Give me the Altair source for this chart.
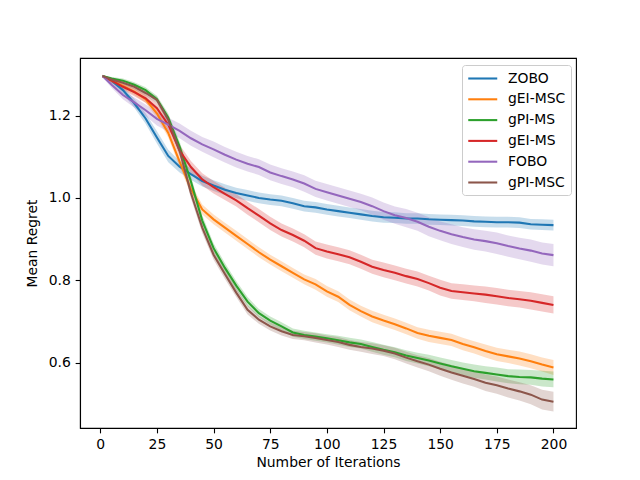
import altair as alt
import pandas as pd

iters = [1] + list(range(5, 201, 5))

series_names = ["ZOBO", "gEI-MSC", "gPI-MS", "gEI-MS", "FOBO", "gPI-MSC"]
colors = ["#1f77b4", "#ff7f0e", "#2ca02c", "#d62728", "#9467bd", "#8c564b"]

zobo = [1.296, 1.285, 1.262, 1.230, 1.193, 1.147, 1.102, 1.076, 1.058, 1.041, 1.030,
        1.020, 1.012, 1.006, 1.000, 0.996, 0.993, 0.987, 0.980, 0.977, 0.972,
        0.968, 0.964, 0.960, 0.956, 0.953, 0.952, 0.950, 0.950, 0.948, 0.947,
        0.946, 0.945, 0.943, 0.942, 0.941, 0.941, 0.940, 0.936, 0.935, 0.934]
gei_msc = [1.296, 1.285, 1.272, 1.258, 1.240, 1.205, 1.158, 1.088, 1.022, 0.972, 0.948,
           0.928, 0.908, 0.888, 0.868, 0.850, 0.834, 0.818, 0.802, 0.790, 0.773,
           0.760, 0.740, 0.725, 0.712, 0.702, 0.693, 0.683, 0.672, 0.665, 0.660,
           0.655, 0.645, 0.637, 0.628, 0.620, 0.615, 0.610, 0.603, 0.595, 0.588]
gpi_ms = [1.296, 1.290, 1.285, 1.275, 1.262, 1.240, 1.195, 1.125, 1.040, 0.945, 0.878,
          0.830, 0.787, 0.748, 0.720, 0.702, 0.688, 0.673, 0.667, 0.663, 0.659,
          0.654, 0.649, 0.645, 0.638, 0.631, 0.625, 0.617, 0.611, 0.605, 0.598,
          0.591, 0.585, 0.579, 0.575, 0.571, 0.567, 0.565, 0.564, 0.561, 0.559]
gei_ms = [1.296, 1.285, 1.270, 1.257, 1.242, 1.218, 1.178, 1.115, 1.075, 1.045, 1.026,
          1.010, 0.994, 0.975, 0.957, 0.938, 0.922, 0.910, 0.896, 0.878, 0.870,
          0.863, 0.856, 0.845, 0.833, 0.825, 0.818, 0.810, 0.803, 0.793, 0.782,
          0.774, 0.771, 0.768, 0.765, 0.761, 0.757, 0.754, 0.750, 0.745, 0.740]
fobo = [1.296, 1.275, 1.250, 1.232, 1.213, 1.192, 1.178, 1.163, 1.145, 1.130, 1.118,
        1.105, 1.093, 1.083, 1.075, 1.062, 1.053, 1.045, 1.035, 1.022, 1.014,
        1.006, 0.998, 0.990, 0.980, 0.968, 0.958, 0.951, 0.942, 0.930, 0.920,
        0.912, 0.905, 0.899, 0.895, 0.890, 0.883, 0.877, 0.872, 0.865, 0.861]
gpi_msc = [1.296, 1.288, 1.280, 1.270, 1.255, 1.238, 1.190, 1.115, 1.012, 0.928, 0.862,
           0.815, 0.770, 0.728, 0.704, 0.688, 0.676, 0.667, 0.664, 0.660, 0.655,
           0.650, 0.643, 0.638, 0.634, 0.629, 0.622, 0.612, 0.603, 0.595, 0.585,
           0.576, 0.568, 0.560, 0.551, 0.545, 0.537, 0.530, 0.522, 0.510, 0.505]

zobo_err = [0.003, 0.006, 0.009, 0.011, 0.013, 0.015, 0.015, 0.014, 0.014, 0.013, 0.013,
            0.013, 0.013, 0.013, 0.013, 0.013, 0.013, 0.013, 0.013, 0.013, 0.013,
            0.013, 0.013, 0.013, 0.013, 0.013, 0.013, 0.013, 0.013, 0.013, 0.013,
            0.013, 0.013, 0.013, 0.013, 0.013, 0.013, 0.013, 0.013, 0.013, 0.013]
gei_msc_err = [0.003, 0.005, 0.007, 0.008, 0.009, 0.010, 0.011, 0.012, 0.012, 0.012, 0.012,
               0.012, 0.012, 0.012, 0.012, 0.012, 0.012, 0.012, 0.012, 0.013, 0.013,
               0.013, 0.013, 0.013, 0.014, 0.014, 0.014, 0.014, 0.014, 0.015, 0.015,
               0.015, 0.015, 0.015, 0.016, 0.016, 0.016, 0.017, 0.017, 0.017, 0.018]
gpi_ms_err = [0.002, 0.004, 0.005, 0.006, 0.007, 0.008, 0.010, 0.012, 0.013, 0.013, 0.012,
              0.012, 0.011, 0.011, 0.010, 0.010, 0.010, 0.010, 0.010, 0.010, 0.010,
              0.011, 0.011, 0.011, 0.012, 0.012, 0.012, 0.013, 0.013, 0.014, 0.014,
              0.015, 0.015, 0.016, 0.016, 0.017, 0.017, 0.018, 0.018, 0.019, 0.019]
gei_ms_err = [0.003, 0.006, 0.008, 0.010, 0.011, 0.012, 0.013, 0.014, 0.015, 0.015, 0.015,
              0.015, 0.015, 0.016, 0.016, 0.016, 0.016, 0.016, 0.016, 0.016, 0.017,
              0.017, 0.017, 0.017, 0.017, 0.018, 0.018, 0.018, 0.018, 0.018, 0.019,
              0.019, 0.019, 0.019, 0.020, 0.020, 0.020, 0.020, 0.021, 0.021, 0.021]
fobo_err = [0.003, 0.007, 0.010, 0.012, 0.014, 0.016, 0.017, 0.018, 0.018, 0.018, 0.019,
            0.019, 0.019, 0.019, 0.019, 0.019, 0.019, 0.019, 0.020, 0.020, 0.020,
            0.020, 0.020, 0.020, 0.021, 0.021, 0.021, 0.022, 0.022, 0.023, 0.023,
            0.024, 0.024, 0.025, 0.025, 0.026, 0.026, 0.026, 0.027, 0.027, 0.027]
gpi_msc_err = [0.002, 0.004, 0.005, 0.006, 0.007, 0.008, 0.010, 0.012, 0.013, 0.013, 0.012,
               0.012, 0.011, 0.011, 0.010, 0.010, 0.010, 0.010, 0.010, 0.011, 0.011,
               0.012, 0.012, 0.012, 0.013, 0.013, 0.014, 0.014, 0.015, 0.016, 0.017,
               0.018, 0.019, 0.019, 0.020, 0.021, 0.022, 0.022, 0.023, 0.024, 0.024]

all_vals = [zobo, gei_msc, gpi_ms, gei_ms, fobo, gpi_msc]
all_errs = [zobo_err, gei_msc_err, gpi_ms_err, gei_ms_err, fobo_err, gpi_msc_err]

rows = []
for k, (name, vals, errs) in enumerate(zip(series_names, all_vals, all_errs)):
    for it, v, e in zip(iters, vals, errs):
        rows.append({"it": it, "value": v, "lo": v - e, "hi": v + e,
                     "series": name, "ord": k})
df = pd.DataFrame(rows)

FONT = "DejaVu Sans"
FS = 13.9

xscale = alt.Scale(domain=[-8.95, 209.95], nice=False, zero=False)
yscale = alt.Scale(domain=[0.441, 1.340], nice=False, zero=False)
cscale = alt.Scale(domain=series_names, range=colors)

xaxis = alt.Axis(values=[0, 25, 50, 75, 100, 125, 150, 175, 200],
                 title="Number of Iterations", grid=False, format="d")
yaxis = alt.Axis(values=[0.6, 0.8, 1.0, 1.2], title="Mean Regret",
                 grid=False, format=".1f", titlePadding=9)

legend = alt.Legend(
    title=None, orient="none", legendX=382, legendY=7,
    symbolType="M-1,0H3", symbolSize=210, symbolStrokeWidth=2.08,
    symbolOpacity=1, symbolFillColor="transparent",
    labelFont=FONT, labelFontSize=FS, labelColor="black",
    labelOffset=24, rowPadding=4.8, padding=5,
    strokeColor="#cccccc", fillColor="white", cornerRadius=3,
)

base = alt.Chart(df)

band = base.mark_area(opacity=0.25, interpolate="linear").encode(
    x=alt.X("it:Q", scale=xscale, axis=xaxis),
    y=alt.Y("lo:Q", scale=yscale, axis=yaxis),
    y2=alt.Y2("hi:Q"),
    color=alt.Color("series:N", scale=cscale, legend=legend),
)

line = base.mark_line(strokeWidth=2.08).encode(
    x=alt.X("it:Q", scale=xscale, axis=xaxis),
    y=alt.Y("value:Q", scale=yscale, axis=yaxis),
    color=alt.Color("series:N", scale=cscale, legend=legend),
    order="it:Q",
)

chart = alt.layer(band, line).properties(
    width=496, height=370,
    autosize=alt.AutoSizeParams(type="none"),
    padding={"left": 72, "top": 50, "right": 56, "bottom": 44},
).configure_view(
    stroke="black", strokeWidth=1.1
).configure_axis(
    labelFont=FONT, titleFont=FONT, labelFontSize=FS, titleFontSize=FS,
    titleFontWeight="normal", labelColor="black", titleColor="black",
    domainColor="black", domainWidth=1.1, tickColor="black", tickWidth=1.1,
    tickSize=4.86, labelPadding=4.86,
)

chart.save("out.html", embed_options={"renderer": "svg", "actions": False})
